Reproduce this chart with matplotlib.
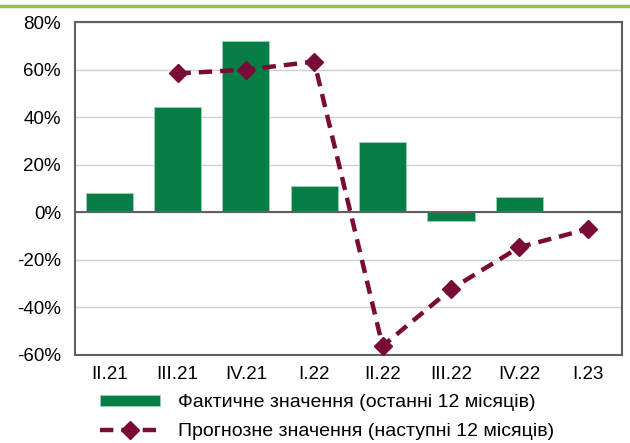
import numpy as np
import matplotlib.pyplot as plt
from matplotlib.ticker import FuncFormatter

plt.rcParams['font.family'] = ['Liberation Sans', 'DejaVu Sans']

quarters = ['II.21', 'III.21', 'IV.21', 'I.22', 'II.22', 'III.22', 'IV.22', 'I.23']
actual = [8.0, 44.5, 72.0, 11.0, 29.4, -3.8, 6.3, np.nan]
forecast = [np.nan, 58.4, 60.0, 63.4, -56.3, -32.4, -14.7, -7.1]

green = '#077d46'
maroon = '#7a0a36'

fig = plt.figure(figsize=(6.3, 4.43), dpi=100)
ax = fig.add_axes([0.119, 0.199, 0.868, 0.751])

x = np.arange(len(quarters))
bars = ax.bar(x, actual, width=0.69, color=green, edgecolor='#9fd0b4', linewidth=0.6,
              label='Фактичне значення (останні 12 місяців)', zorder=2)
line, = ax.plot(x, forecast, color=maroon, lw=3.2, ls=(0, (3, 1.8)), marker='D', ms=9.5,
                label='Прогнозне значення (наступні 12 місяців)', zorder=3)

ax.set_xlim(-0.5, len(quarters) - 0.5)
ax.set_ylim(-60, 80)
ax.set_yticks(np.arange(-60, 81, 20))
ax.yaxis.set_major_formatter(FuncFormatter(lambda v, p: f'{v:.0f}%'))
ax.set_xticks(x)
ax.set_xticklabels(quarters)
ax.tick_params(axis='both', labelsize=13.5, length=0, pad=8)
ax.tick_params(axis='y', pad=10)
ax.grid(axis='y', color='#d0d0d0', lw=1, zorder=0)
ax.axhline(0, color='#606060', lw=1.5, zorder=2.5)
for s in ax.spines.values():
    s.set_color('#606060')
    s.set_linewidth(1.5)

fig.legend([bars, line], [bars.get_label(), line.get_label()],
           loc='upper left', bbox_to_anchor=(0.159, 0.11), frameon=False,
           fontsize=14, handlelength=3.1, handleheight=0.5, handletextpad=0.9,
           labelspacing=0.6, borderpad=0, borderaxespad=0)

# green rule at the top (header strip)
fig.add_artist(plt.Line2D([0, 1], [0.987, 0.987], color='#8cc152', lw=2.5))

fig.savefig('out.png', dpi=100)
